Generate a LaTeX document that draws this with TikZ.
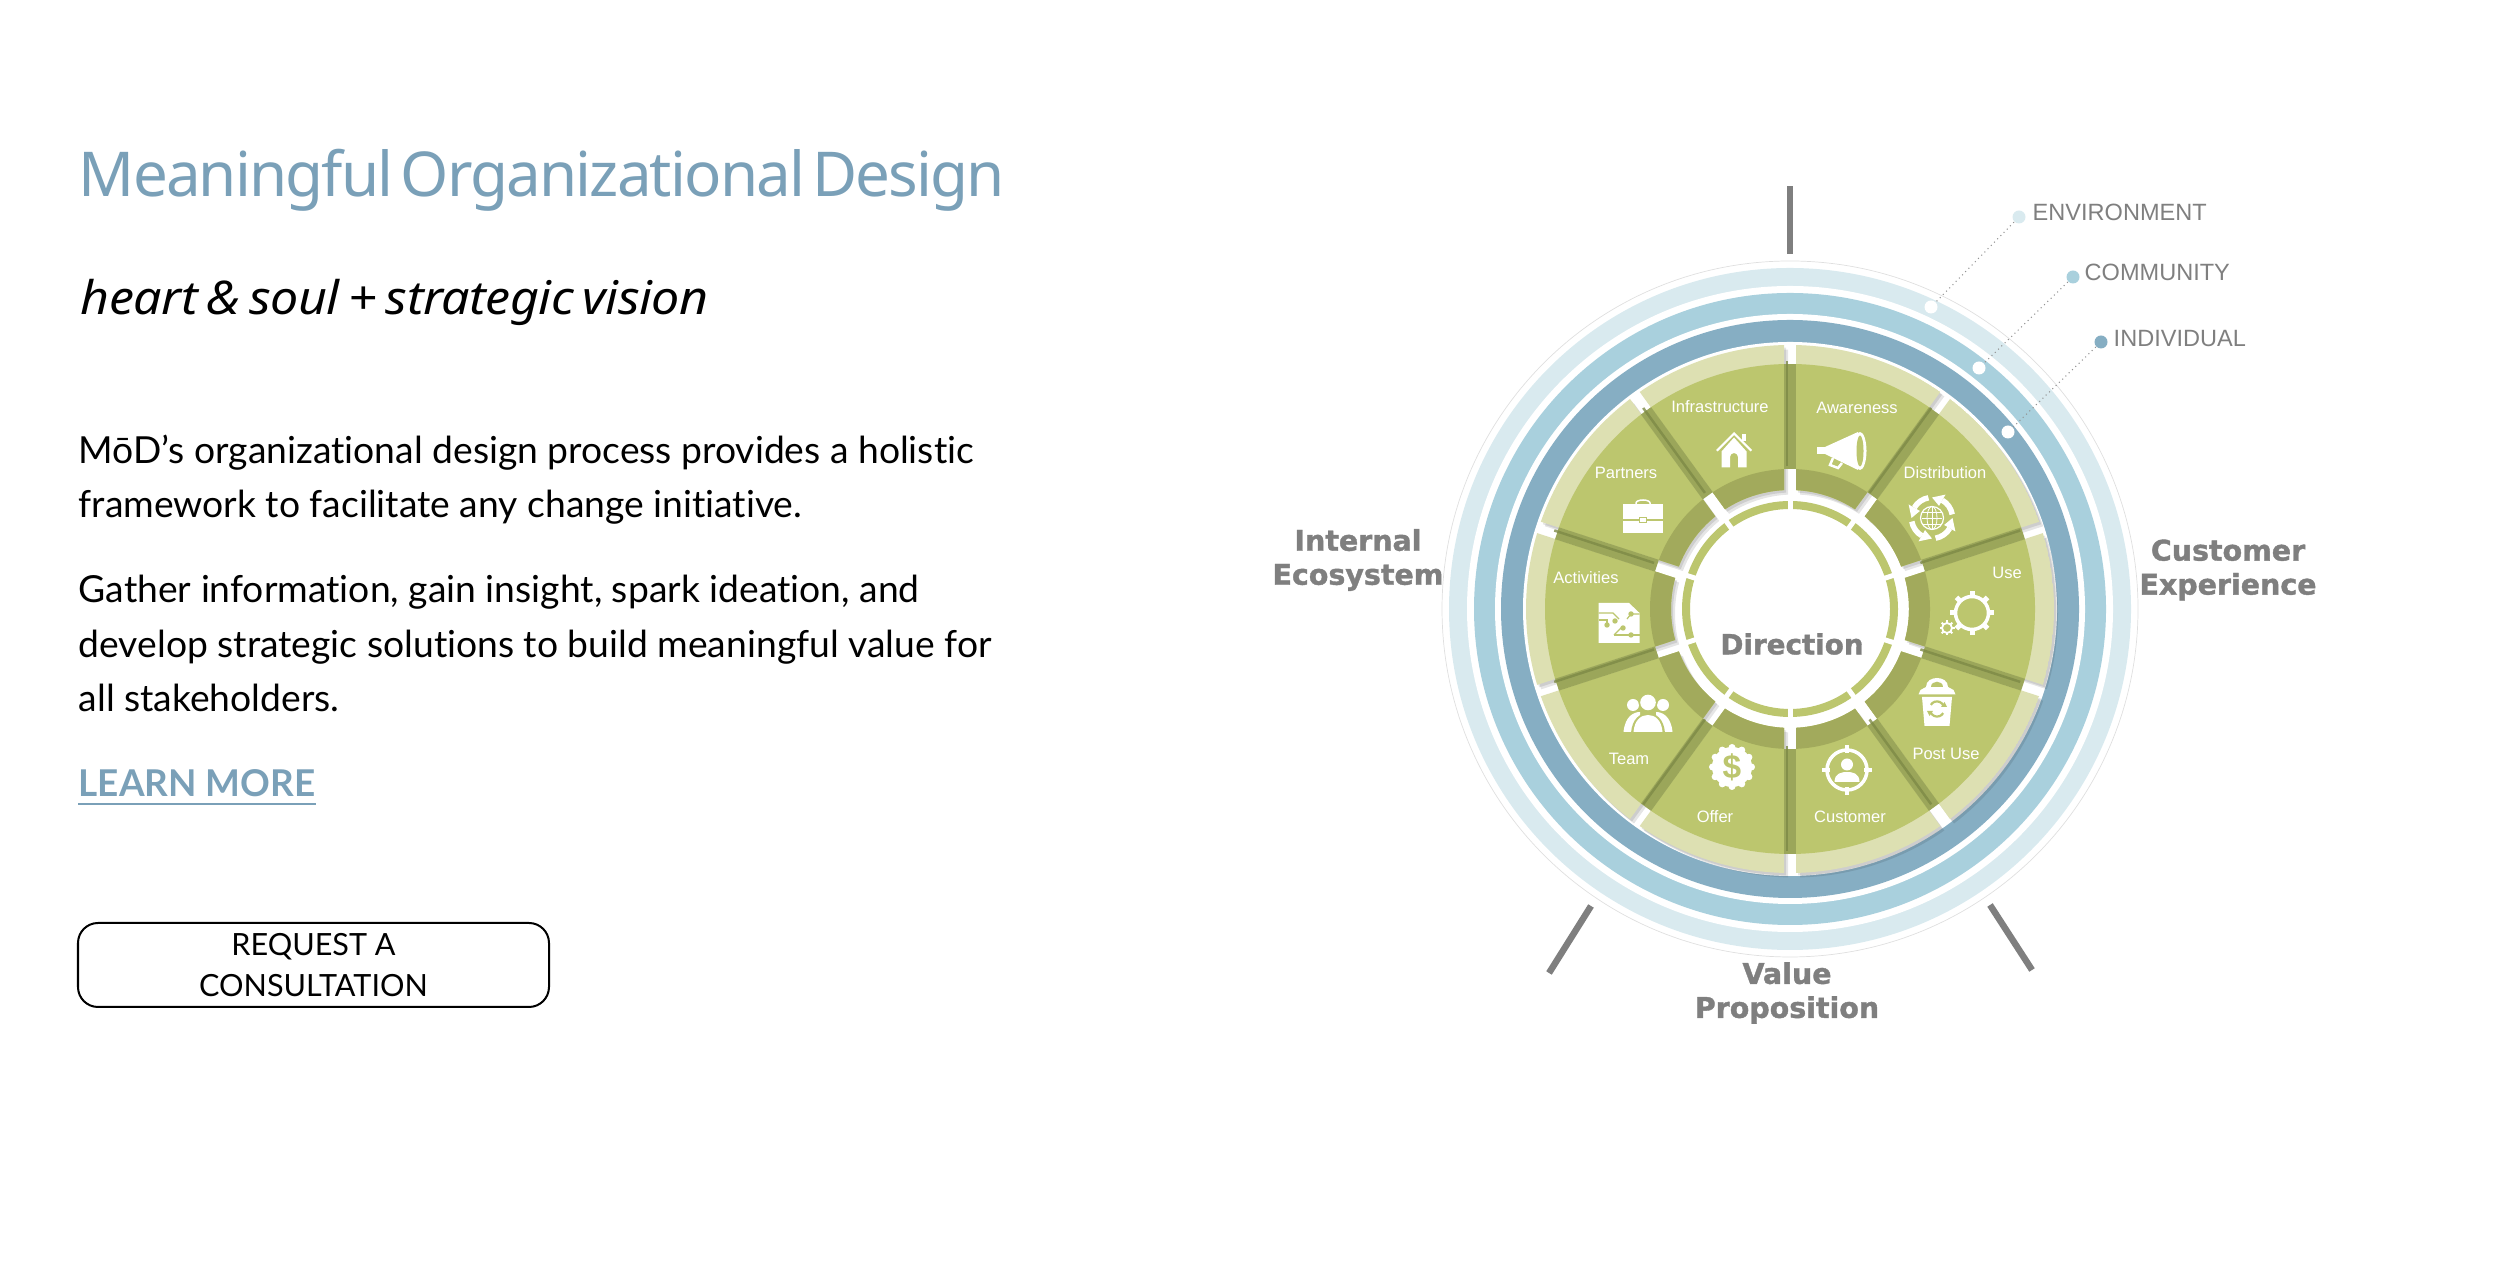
\documentclass[tikz,border=0pt]{standalone}
\usepackage{fontspec}
\setmainfont{Liberation Sans}
\newfontfamily\headfont[LetterSpace=-3, WordSpace=0.5]{Noto Sans}
\newfontfamily\tagfont[LetterSpace=-1, WordSpace=0.7, FakeStretch=1.08]{Noto Sans}
\newfontfamily\bodyfont[Ligatures=NoCommon]{Lato}
\newfontfamily\boldfont[BoldFeatures={FakeBold=1.3}]{DejaVu Sans}
\definecolor{modblue}{RGB}{122, 160, 184}
\definecolor{modgray}{RGB}{127, 127, 127}
\definecolor{ringenv}{RGB}{217, 234, 239}
\definecolor{ringcom}{RGB}{169, 208, 221}
\definecolor{ringind}{RGB}{134, 174, 195}
\definecolor{segmain}{RGB}{188, 198, 110}
\definecolor{seglight}{RGB}{221, 224, 178}
\definecolor{segdark}{RGB}{162, 170, 92}
\definecolor{segstrip}{RGB}{155, 166, 90}
\definecolor{segshade}{RGB}{125, 138, 70}
\tikzset{
    seglabel/.style={white, font=\fontsize{4.7}{6}\selectfont, inner sep=0pt},
    axislabel/.style={modgray, align=center, inner sep=0pt, font=\boldfont\bfseries\fontsize{8.1}{9.67}\selectfont},
    layerlabel/.style={modgray, anchor=west, inner sep=0pt, font=\fontsize{6.7}{9}\selectfont},
    bodyline/.style={anchor=base west, inner sep=0pt, font=\bodyfont\fontsize{10.6}{13}\selectfont},
    tickmark/.style={modgray, line width=0.065cm},
    layerdot/.style={circle, inner sep=0pt, minimum size=0.13cm},
    leader/.style={gray!85, line width=0.3pt, densely dotted},
}
\begin{document}
\begin{tikzpicture}
\useasboundingbox (0,0) rectangle (25,12.68);

% === Text column ===
\node[anchor=base west, inner sep=0pt, modblue, font=\headfont\fontsize{17.6}{20}\selectfont] (title) at (0.78,10.71) {Meaningful Organizational Design};
\node[anchor=base west, inner sep=0pt, font=\tagfont\itshape\fontsize{13.2}{15}\selectfont] (subtitle) at (0.80,9.53) {heart \& soul + strategic vision};

\node[bodyline] (introa) at (0.78,8.04) {MōD’s organizational design process provides a holistic};
\node[bodyline] (introb) at (0.78,7.50) {framework to facilitate any change initiative.};
\node[bodyline] (gathera) at (0.78,6.65) {Gather information, gain insight, spark ideation, and};
\node[bodyline] (gatherb) at (0.78,6.10) {develop strategic solutions to build meaningful value for};
\node[bodyline] (gatherc) at (0.78,5.56) {all stakeholders.};

\node[bodyline, modblue, font=\bodyfont\bfseries\fontsize{10.5}{13}\selectfont] (learnmore) at (0.78,4.71) {LEARN MORE};
\draw[modblue, line width=0.02cm] ([yshift=-0.07cm]learnmore.base west) -- ([yshift=-0.07cm]learnmore.base east);

\node[draw, line width=0.02cm, rounded corners=0.2cm, minimum width=4.71cm, minimum height=0.84cm, inner sep=0pt, align=center, font=\bodyfont\fontsize{8.7}{11.66}\selectfont] (consult) at (3.135,3.03) {REQUEST A\\CONSULTATION};

% === Wheel ===
\begin{scope}[shift={(17.90,6.59)}]
    % Rings
    \draw[gray!25, line width=0.2pt] (0,0) circle (3.48);
    \fill[ringenv] (0,0) circle (3.41);
    \fill[white] (0,0) circle (3.23);
    \fill[ringcom] (0,0) circle (3.16);
    \fill[white] (0,0) circle (2.95);
    \fill[ringind] (0,0) circle (2.89);
    \fill[white] (0,0) circle (2.67);

    % Segments
    \foreach \a in {18,54,...,342} {
        \pgfmathsetmacro{\b}{\a+36}
        \def\sectorpath{(\a+1.3:2.64) arc[start angle=\a+1.3, end angle=\b-1.3, radius=2.64] -- (\b-2.9:1.19) arc[start angle=\b-2.9, end angle=\a+2.9, radius=1.19] -- cycle}
        \fill[black, opacity=0.10, shift={(0.02,-0.025)}] \sectorpath;
        \fill[black, opacity=0.10, shift={(0.04,-0.045)}] \sectorpath;
        \begin{scope}
            \clip \sectorpath;
            \fill[seglight] (0,0) circle (2.64);
            \fill[segmain] (0,0) circle (2.45);
            \fill[segdark] (0,0) circle (1.40);
        \end{scope}
    }

    % Strips between the segments
    \foreach \a in {18,54,...,342} {
        \draw[segstrip, line width=0.125cm] (\a:1.40) -- (\a:2.45);
        \draw[segshade, line width=0.025cm, opacity=0.8, shift={(-0.028,0.028)}] (\a:1.40) -- (\a:2.45);
    }

    % Inner ring
    \draw[segmain, line width=0.08cm] (0,0) circle (1.04);
    \foreach \a in {18,54,...,342} {
        \draw[white, line width=0.05cm] (\a:0.98) -- (\a:1.10);
    }

    \node[modgray, inner sep=0pt, font=\boldfont\bfseries\fontsize{7.9}{10}\selectfont] (direction) at (0.02,-0.35) {Direction};

    % Segment labels
    \node[seglabel] (infra) at (-0.70,2.02) {Infrastructure};
    \node[seglabel] (aware) at (0.67,2.01) {Awareness};
    \node[seglabel] (partners) at (-1.64,1.36) {Partners};
    \node[seglabel] (distrib) at (1.55,1.36) {Distribution};
    \node[seglabel] (activities) at (-2.04,0.31) {Activities};
    \node[seglabel] (use) at (2.17,0.36) {Use};
    \node[seglabel] (team) at (-1.61,-1.50) {Team};
    \node[seglabel] (offer) at (-0.75,-2.08) {Offer};
    \node[seglabel] (customer) at (0.60,-2.08) {Customer};
    \node[seglabel] (postuse) at (1.56,-1.45) {Post Use};

    % House
    \begin{scope}[shift={(-0.56,1.59)}]
        \fill[white] (-0.18,0) -- (0,0.18) -- (0.18,0) -- (0.165,-0.015) -- (0,0.15) -- (-0.165,-0.015) -- cycle;
        \fill[white] (0.08,0.09) rectangle (0.115,0.16);
        \fill[white] (-0.125,-0.175) -- (-0.125,-0.015) -- (0,0.125) -- (0.125,-0.015) -- (0.125,-0.175) -- (0.04,-0.175) -- (0.04,-0.07) arc[start angle=0, end angle=180, radius=0.04] -- (-0.04,-0.175) -- cycle;
    \end{scope}

    % Megaphone
    \begin{scope}[shift={(0.52,1.58)}]
        \fill[white] (-0.17,-0.03) -- (0.16,-0.19) -- (0.22,0) -- (0.16,0.19) -- (-0.17,0.04) -- cycle;
        \fill[white] (-0.25,-0.03) rectangle (-0.16,0.04);
        \fill[white] (0.18,0) ellipse (0.065 and 0.19);
        \fill[segmain] (0.18,0) ellipse (0.035 and 0.155);
        \draw[white, line width=0.025cm] (-0.09,-0.07) -- (-0.12,-0.14) -- (-0.04,-0.17) -- (0,-0.12);
    \end{scope}

    % Briefcase
    \begin{scope}[shift={(-1.47,0.92)}]
        \fill[white] (-0.2,-0.165) rectangle (0.2,0.125);
        \draw[white, line width=0.015cm] (-0.07,0.125) -- (-0.07,0.14) arc[start angle=180, end angle=0, x radius=0.07, y radius=0.03] -- (0.07,0.125);
        \draw[segmain, line width=0.015cm] (-0.2,-0.03) -- (-0.04,-0.03) (0.04,-0.03) -- (0.2,-0.03);
        \draw[segmain, line width=0.012cm] (-0.035,-0.055) rectangle (0.035,-0.005);
    \end{scope}

    % Globe with arrows
    \begin{scope}[shift={(1.42,0.91)}]
        \draw[white, line width=0.012cm] (0,0) circle (0.115);
        \draw[white, line width=0.008cm] (0,0) ellipse (0.05 and 0.115);
        \draw[white, line width=0.008cm] (0,-0.115) -- (0,0.115);
        \foreach \h in {-0.06,0,0.06} {
            \draw[white, line width=0.008cm] (-0.1,\h) -- (0.1,\h);
        }
        \foreach \r in {10,100,190,280} {
            \draw[white, line width=0.055cm] (\r:0.205) arc[start angle=\r, end angle=\r+50, radius=0.205];
            \fill[white] (\r+50:0.14) -- (\r+50:0.27) -- (\r+80:0.205) -- cycle;
        }
    \end{scope}

    % Circuit sheet
    \begin{scope}[shift={(-1.71,-0.14)}]
        \fill[white] (-0.205,-0.2) -- (0.205,-0.2) -- (0.205,0.1) -- (0.1,0.2) -- (-0.205,0.2) -- cycle;
        \draw[segmain, line width=0.012cm] (-0.205,0.1) -- (-0.06,0.1) -- (0,0.04);
        \draw[segmain, line width=0.012cm] (-0.205,0.03) -- (-0.12,0.03) -- (-0.12,-0.02);
        \draw[segmain, line width=0.012cm] (-0.05,-0.12) -- (0.02,-0.05) -- (0.04,-0.05);
        \draw[segmain, line width=0.012cm] (0.205,0.09) -- (0.12,0.09) -- (0.08,0.04);
        \draw[segmain, line width=0.012cm] (0.205,-0.12) -- (-0.05,-0.12);
        \foreach \p in {(-0.12,-0.02),(-0.04,0.02),(0.04,-0.05),(0.12,0.09),(0.12,-0.12)} {
            \fill[segmain] \p circle (0.027);
        }
    \end{scope}

    % Gears
    \begin{scope}[shift={(1.82,-0.04)}]
        \draw[white, line width=0.035cm] (0,0) circle (0.165);
        \foreach \r in {0,45,...,315} {
            \draw[white, line width=0.05cm] (\r:0.17) -- (\r:0.22);
        }
    \end{scope}
    \begin{scope}[shift={(1.57,-0.19)}]
        \draw[white, line width=0.018cm] (0,0) circle (0.05);
        \foreach \r in {0,45,...,315} {
            \draw[white, line width=0.02cm] (\r:0.05) -- (\r:0.075);
        }
    \end{scope}

    % Team
    \begin{scope}[shift={(-1.42,-1.04)}]
        \fill[white] (-0.15,0.08) circle (0.06);
        \fill[white] (0.15,0.08) circle (0.06);
        \fill[white] (-0.245,-0.19) .. controls (-0.23,-0.03) and (-0.14,0.01) .. (-0.08,0.01) -- (-0.08,-0.19) -- cycle;
        \fill[white] (0.245,-0.19) .. controls (0.23,-0.03) and (0.14,0.01) .. (0.08,0.01) -- (0.08,-0.19) -- cycle;
        \fill[segmain] (0,0.105) circle (0.095);
        \fill[white] (0,0.105) circle (0.078);
        \fill[segmain] (-0.17,-0.2) .. controls (-0.16,-0.06) and (-0.08,0) .. (0,0) .. controls (0.08,0) and (0.16,-0.06) .. (0.17,-0.2) -- cycle;
        \fill[white] (-0.145,-0.19) .. controls (-0.135,-0.07) and (-0.07,-0.02) .. (0,-0.02) .. controls (0.07,-0.02) and (0.135,-0.07) .. (0.145,-0.19) -- cycle;
    \end{scope}

    % Bin
    \begin{scope}[shift={(1.47,-0.93)}]
        \fill[white] (-0.185,0.075) -- (-0.165,0.12) -- (-0.11,0.15) .. controls (-0.11,0.27) and (0.11,0.27) .. (0.11,0.15) -- (0.165,0.12) -- (0.185,0.075) -- cycle;
        \fill[segmain] (-0.06,0.15) .. controls (-0.06,0.22) and (0.06,0.22) .. (0.06,0.15) -- cycle;
        \fill[white] (-0.15,0.05) -- (0.15,0.05) -- (0.125,-0.24) -- (-0.125,-0.24) -- cycle;
        \draw[segmain, line width=0.022cm] (0.065,-0.04) arc[start angle=20, end angle=150, radius=0.07];
        \draw[segmain, line width=0.022cm] (-0.065,-0.1) arc[start angle=200, end angle=330, radius=0.07];
        \fill[segmain] (0.04,-0.05) -- (0.1,-0.05) -- (0.075,0) -- cycle;
        \fill[segmain] (-0.04,-0.09) -- (-0.1,-0.09) -- (-0.075,-0.14) -- cycle;
    \end{scope}

    % Dollar badge
    \begin{scope}[shift={(-0.58,-1.58)}]
        \fill[white] (0,0) circle (0.2);
        \foreach \r in {0,30,...,330} {
            \fill[white] (\r:0.195) circle (0.035);
        }
        \node[segmain, inner sep=0pt, font=\bfseries\fontsize{9.5}{10}\selectfont] (dollar) at (0,0) {\$};
    \end{scope}

    % Customer target
    \begin{scope}[shift={(0.57,-1.61)}]
        \draw[white, line width=0.035cm] (0,0) circle (0.2);
        \foreach \r in {0,90,180,270} {
            \draw[white, line width=0.04cm] (\r:0.17) -- (\r:0.25);
        }
        \fill[white] (0,0.055) circle (0.06);
        \fill[white] (-0.125,-0.12) .. controls (-0.125,-0.03) and (-0.05,-0.02) .. (0,-0.02) .. controls (0.05,-0.02) and (0.125,-0.03) .. (0.125,-0.12) -- cycle;
    \end{scope}

    % Ticks
    \draw[tickmark] (0,3.55) -- (0,4.23);
    \draw[tickmark] (-1.99,-2.97) -- (-2.41,-3.64);
    \draw[tickmark] (2.00,-2.96) -- (2.42,-3.61);

    % White markers on the rings
    \node[layerdot, fill=white] (envspot) at (1.41,3.02) {};
    \node[layerdot, fill=white] (comspot) at (1.89,2.41) {};
    \node[layerdot, fill=white] (indspot) at (2.18,1.77) {};
\end{scope}

% === Layer callouts ===
\node[layerdot, fill=ringenv] (envdot) at (20.19,10.51) {};
\node[layerdot, fill=ringcom] (comdot) at (20.73,9.91) {};
\node[layerdot, fill=ringind] (inddot) at (21.01,9.26) {};
\node[layerlabel] (envlabel) at (20.32,10.56) {ENVIRONMENT};
\node[layerlabel] (comlabel) at (20.84,9.96) {COMMUNITY};
\node[layerlabel] (indlabel) at (21.13,9.29) {INDIVIDUAL};
\draw[leader] (envdot) -- (envspot);
\draw[leader] (comdot) -- (comspot);
\draw[leader] (inddot) -- (indspot);

% === Axis labels ===
\node[axislabel] (internal) at (13.58,7.08) {Internal\\Ecosystem};
\node[axislabel] (custexp) at (22.28,6.98) {Customer\\Experience};
\node[axislabel] (valueprop) at (17.87,2.75) {Value\\Proposition};

\end{tikzpicture}
\end{document}
